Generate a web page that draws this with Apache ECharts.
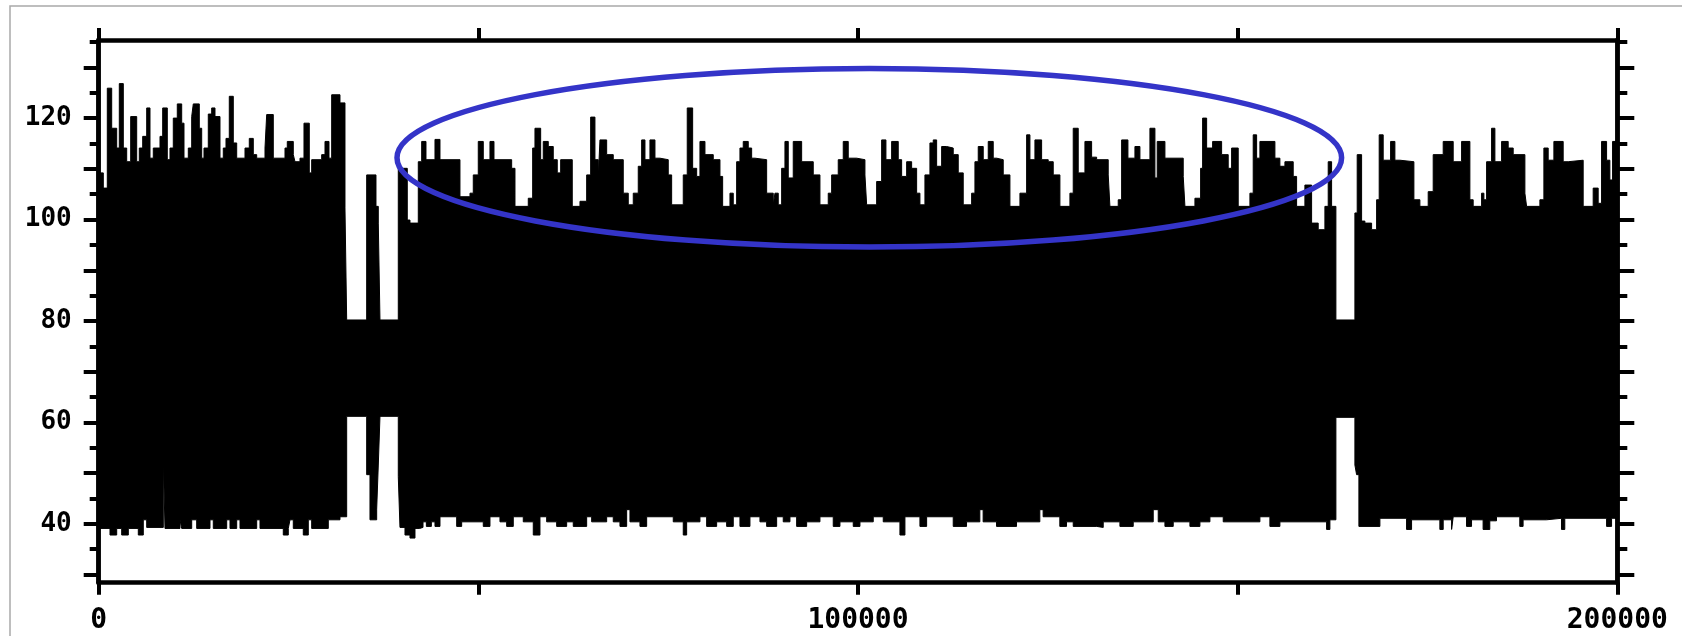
<!DOCTYPE html>
<html>
<head>
<meta charset="utf-8">
<script src="https://cdn.jsdelivr.net/npm/echarts@6/dist/echarts.min.js"></script>
<style>
html,body{margin:0;padding:0;background:#fff;}
#c{width:1682px;height:636px;}
</style>
</head>
<body>
<div id="c"></div>
<script>
// ---- data (x = sample index, y = signal value) ----
// upper envelope of the dense signal (value holds from x[i] to x[i+1])
const upperX = [
0,606,1133,1712,2370,2713,3240,3687,4214,5004,
5347,5794,6321,6756,7190,8073,8428,9034,9390,9824,
10351,10930,11233,11800,12247,12458,13248,13564,13867,14433,
14881,15316,15974,16409,16764,17199,17726,18173,19266,19833,
20360,20807,21900,22124,22993,24534,24837,25627,25851,26509,
27036,27734,28050,29367,29802,30328,30684,31777,32435,32659,
35293,36518,36821,37045,39455,40640,40996,42089,42536,43102,
44288,44946,47579,48897,49331,49990,50648,51530,52057,54388,
54823,56574,57154,57456,58207,58549,59208,59866,60393,60841,
62368,63382,64265,64791,65356,65792,66016,66899,67768,69084,
69743,70401,71060,71507,71942,72600,73259,73917,75010,75458,
76986,77512,78224,78751,79185,79844,80937,81820,82175,83137,
83571,84018,84453,84887,85546,85993,86428,87969,88838,89062,
89496,89944,90379,90814,91472,92578,94106,94988,96081,96529,
97398,98056,98715,99821,100914,101138,102455,103113,103679,104430,
105299,105747,106406,107064,107722,108157,108815,109474,109909,110356,
111015,111673,112542,113201,113859,114965,115400,115835,116493,117152,
117810,118258,119127,120009,121326,122208,122643,123301,124183,125052,
125711,126593,127910,128345,129003,129886,130768,131427,132954,133178,
134271,134721,135550,136472,137130,138447,139105,139408,140422,142832,
143056,144373,145123,145387,145914,146703,147888,148757,149205,150074,
151615,152049,152497,152931,154907,155565,156224,157317,157764,158857,
159740,160609,161491,161926,162374,162940,165442,165745,166324,166759,
167641,168300,168642,169169,170143,170710,171368,173212,174002,175095,
175753,177070,178387,179493,180586,181020,182127,182430,182786,183444,
183879,184761,185630,186289,187830,188053,189805,190331,190898,191648,
192873,193531,195506,196823,197481,197929,198588,199022,199378,200000
];
const upperY = [
109.2,106.2,125.9,118.0,114.1,126.8,114.1,111.4,120.3,111.4,
114.1,116.4,122.0,112.1,114.1,116.4,122.0,111.8,114.1,120.0,
122.8,119.0,112.1,114.1,120.3,122.8,118.0,112.1,114.1,120.8,
122.0,120.3,112.1,114.1,116.0,124.3,115.1,112.1,114.1,116.0,
112.8,112.1,114.1,120.7,112.1,114.1,115.4,112.8,111.4,112.1,
119.0,109.2,111.8,112.8,115.4,112.1,124.6,123.0,102.3,80.2,
108.8,102.6,99.3,80.2,110.1,99.9,99.3,111.4,115.4,111.8,
115.8,111.8,104.5,105.2,108.8,115.4,111.8,115.4,111.8,110.1,
102.6,104.2,114.1,118.0,111.8,115.4,114.4,111.8,109.2,111.8,
102.6,103.6,108.8,120.2,111.8,108.2,115.7,112.8,111.8,105.2,
102.9,105.2,110.5,115.7,111.8,115.7,112.1,111.8,108.8,102.9,
108.8,122.0,110.1,108.5,115.4,112.8,111.8,108.5,102.6,105.2,
102.9,111.4,114.1,115.4,114.1,112.1,111.8,105.2,102.9,105.2,
102.9,110.1,115.4,108.2,115.4,111.4,108.8,102.9,105.2,108.8,
111.8,115.4,112.1,111.8,108.8,102.9,107.5,115.7,111.8,115.4,
111.8,108.5,111.4,110.1,105.2,102.9,108.8,115.1,115.7,110.5,
114.4,114.1,112.8,109.2,102.9,105.2,111.4,114.4,111.8,115.4,
112.1,111.8,108.8,102.6,105.2,116.7,111.8,115.7,111.8,111.4,
108.8,102.6,105.2,118.0,109.2,115.4,112.3,111.8,108.8,102.6,
103.9,115.7,112.1,114.4,111.8,118.0,108.2,115.4,112.1,108.5,
102.6,104.2,110.1,120.0,114.1,115.4,112.8,110.1,114.1,102.6,
105.2,116.7,112.1,115.4,112.1,110.5,111.4,108.5,102.6,106.8,
99.3,98.0,102.6,111.4,102.6,80.2,101.3,112.8,99.7,99.3,
98.0,103.9,116.7,111.7,115.4,111.7,111.4,103.9,102.6,105.5,
112.8,115.4,111.4,115.4,103.9,102.6,105.2,103.9,111.4,118.0,
111.4,115.4,114.1,112.8,105.2,102.6,103.9,114.1,111.7,115.4,
111.4,111.7,102.6,106.2,103.2,115.4,111.7,107.8,115.4,115.4
];
// lower envelope of the dense signal
const lowerX = [
0,1488,2370,3029,3898,5215,5873,6321,8507,8731,
10706,10930,12247,12906,14657,15092,16856,17291,18173,18611,
20807,21242,24310,24969,25192,25627,26944,27602,28050,30236,
31777,32659,35293,35728,36610,36821,37045,39455,39679,40337,
40996,41654,42273,42712,43151,43810,44288,44946,47145,47803,
50648,51530,52847,53729,54599,55916,57233,58115,58997,60314,
61631,62500,64265,64923,66899,67768,68651,69533,69968,71284,
72166,75669,76986,77433,79185,80067,81384,82701,83571,84453,
85770,87087,87969,89286,90155,91038,91920,93237,94988,96740,
97622,99373,100256,102007,103324,105523,106181,108157,109039,112542,
114294,116045,116480,118245,120878,123946,124381,126580,127462,128345,
131427,132296,134495,136248,138881,139540,140422,141515,143714,145031,
146348,148100,152931,154248,155565,161714,162150,162940,165442,165666,
165969,168734,172246,172905,176632,177070,178177,178387,180145,180804,
182325,183207,184090,187158,187593,190674,192650,193084,198588,199246,
200000
];
const lowerY = [
39.1,37.8,39.1,37.8,39.1,37.8,40.8,39.3,53.3,39.1,
40.8,39.1,40.8,39.1,40.8,39.1,40.8,39.1,40.8,39.1,
40.8,39.1,37.8,39.1,40.8,39.1,37.8,40.8,39.1,40.8,
41.4,61.2,49.7,40.8,42.9,51.6,61.2,49.3,39.3,37.8,
37.2,39.1,39.3,40.4,39.5,40.4,39.5,41.4,39.5,40.4,
39.5,41.4,40.4,39.5,41.4,40.4,37.8,41.4,40.4,39.5,
40.4,39.5,41.4,40.4,41.4,40.4,39.5,42.8,40.4,39.5,
41.4,40.4,37.8,40.4,41.4,39.5,40.4,39.5,41.4,39.5,
41.4,40.4,39.5,41.4,40.4,41.4,39.5,40.4,41.4,39.5,
40.4,39.5,40.4,41.4,40.4,37.8,41.4,39.5,41.4,39.5,
40.4,42.8,40.4,39.5,40.4,42.8,41.4,39.5,40.4,39.5,
39.3,40.4,39.5,40.4,42.8,40.4,39.5,40.4,39.5,40.4,
41.4,40.4,41.4,39.5,40.4,38.9,40.8,61.0,51.6,49.7,
39.5,41.1,38.9,40.8,38.9,40.8,38.9,41.4,39.5,40.8,
38.9,40.6,41.4,39.5,40.8,41.1,38.9,41.1,39.5,41.1,
41.1
];
// axis ticks / labels
const yMajorTicks = [30,40,50,60,70,80,90,100,110,120,130];
const yMinorTicks = [35,45,55,65,75,85,95,105,115,125,135];
const yLabels = [40,60,80,100,120];
const xTicks = [0,50000,100000,150000,200000];
const xLabels = [0,100000,200000];

// ---- chart ----
const upperData = upperX.map((x,i)=>[x, upperY[i]]);
const lowerData = lowerX.map((x,i)=>[x, lowerY[i]]);
const YMIN = 28.4, YMAX = 135.4;
const AXW = 4.5;
const labelFont = {color:'#000', fontFamily:'DejaVu Sans Mono', fontWeight:'bold'};
const plain = v => String(Math.round(v));

function yAx(pos, ticks, len, labels){
  return {
    type:'value', position:pos, min:YMIN, max:YMAX, z:10,
    axisLine:{show:true, lineStyle:{color:'#000', width:AXW}},
    axisTick:{show:true, customValues:ticks, length:len, inside:false, lineStyle:{color:'#000', width:4}},
    axisLabel: labels ? Object.assign({show:true, customValues:labels, margin:27, fontSize:26, formatter:plain}, labelFont) : {show:false},
    splitLine:{show:false}
  };
}

const chart = echarts.init(document.getElementById('c'), null, {renderer:'canvas'});
chart.setOption({
  animation:false,
  backgroundColor:'#fff',
  grid:{left:98.7, right:64.7, top:40, bottom:53.3, containLabel:false},
  xAxis:[
    {type:'value', position:'bottom', min:0, max:200000, z:10,
     axisLine:{show:true, onZero:false, lineStyle:{color:'#000', width:AXW}},
     axisTick:{show:true, customValues:xTicks, length:12, lineStyle:{color:'#000', width:4}},
     axisLabel:Object.assign({show:true, customValues:xLabels, margin:24, fontSize:28, formatter:plain}, labelFont),
     splitLine:{show:false}},
    {type:'value', position:'top', min:0, max:200000, z:10,
     axisLine:{show:true, onZero:false, lineStyle:{color:'#000', width:AXW}},
     axisTick:{show:true, customValues:xTicks, length:12, lineStyle:{color:'#000', width:4}},
     axisLabel:{show:false},
     splitLine:{show:false}}
  ],
  yAxis:[
    yAx('left', yMajorTicks, 15, yLabels),
    yAx('left', yMinorTicks, 9, null),
    yAx('right', yMajorTicks, 17, null),
    yAx('right', yMinorTicks, 10, null)
  ],
  series:[
    {type:'line', name:'upper', data:upperData, step:'end', showSymbol:false, z:2,
     xAxisIndex:0, yAxisIndex:0,
     lineStyle:{color:'#000', width:1}, areaStyle:{color:'#000', opacity:1, origin:'start'}},
    {type:'line', name:'lower', data:lowerData, step:'end', showSymbol:false, z:3,
     xAxisIndex:0, yAxisIndex:0,
     lineStyle:{color:'#000', width:1}, areaStyle:{color:'#fff', opacity:1, origin:'start'}}
  ],
  graphic:[
    {type:'rect', z:1, silent:true, shape:{x:10, y:6, width:1800, height:800},
     style:{fill:'transparent', stroke:'#a9a9a9', lineWidth:1.5}},
    {type:'ellipse', z:100, silent:true, shape:{cx:869.3, cy:157.8, rx:472.3, ry:89.3},
     style:{fill:'transparent', stroke:'#3434c8', lineWidth:5.5}}
  ]
});
</script>
</body>
</html>
